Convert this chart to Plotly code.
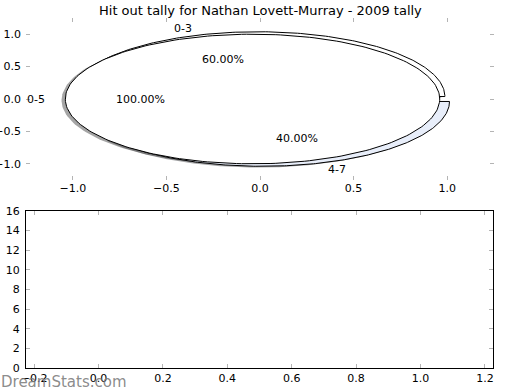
import numpy as np
import plotly.graph_objects as go

# ---- data ----
title_text = "Hit out tally for Nathan Lovett-Murray - 2009 tally"
pie1_labels = ["0-3", "4-7"]
pie1_values = [60, 40]
pie2_labels = ["0-5"]
pie2_values = [100]
top_x_ticks = [-1.0, -0.5, 0.0, 0.5, 1.0]
top_y_ticks = [-1.0, -0.5, 0.0, 0.5, 1.0]
bottom_x_ticks = [-0.2, 0.0, 0.2, 0.4, 0.6, 0.8, 1.0, 1.2]
bottom_y_ticks = [0, 2, 4, 6, 8, 10, 12, 14, 16]
watermark_text = "DreamStats.com"

# ---- style ----
pie1_colors = ["#ffffff", "#e8eefa"]
pie2_colors = ["#ffffff"]
EXPLODE = 0.04
SHADOW_OFF = (-0.02, -0.02)
LABEL_DIST = 1.1
PCT_DIST = 0.6
FONT = "DejaVu Sans"
TICK_GREY = "#b4b4b4"
W, H = 520, 390


def hexrgb(c):
    c = c.lstrip("#")
    return tuple(int(c[i:i + 2], 16) for i in (0, 2, 4))


def wedges(values, labels, colors, explode):
    total = float(sum(values))
    start = 0.0
    out = []
    for v, lab, col in zip(values, labels, colors):
        span = 360.0 * v / total
        t1, t2 = start, start + span
        mid = np.deg2rad((t1 + t2) / 2.0)
        cx, cy = explode * np.cos(mid), explode * np.sin(mid)
        th = np.deg2rad(np.linspace(t1, t2, 240))
        xs = cx + np.cos(th)
        ys = cy + np.sin(th)
        if span < 359.999:
            xs = np.concatenate([[cx], xs, [cx]])
            ys = np.concatenate([[cy], ys, [cy]])
        out.append(dict(x=xs, y=ys, cx=cx, cy=cy, mid=mid, color=col,
                        label=lab, pct=100.0 * v / total))
        start = t2
    return out


pies = [wedges(pie1_values, pie1_labels, pie1_colors, EXPLODE),
        wedges(pie2_values, pie2_labels, pie2_colors, EXPLODE)]

fig = go.Figure()

# shadows first (lower z-order)
for pie in pies:
    for w in pie:
        r, g, b = hexrgb(w["color"])
        sc = "rgba(%d,%d,%d,0.5)" % (int(r * 0.3), int(g * 0.3), int(b * 0.3))
        fig.add_trace(go.Scatter(x=w["x"] + SHADOW_OFF[0], y=w["y"] + SHADOW_OFF[1],
                                 mode="lines", fill="toself", fillcolor=sc,
                                 line=dict(width=0, color=sc), hoverinfo="skip",
                                 showlegend=False, xaxis="x", yaxis="y"))
# wedges
for pie in pies:
    for w in pie:
        fig.add_trace(go.Scatter(x=w["x"], y=w["y"], mode="lines", fill="toself",
                                 fillcolor=w["color"], line=dict(width=1, color="black"),
                                 hoverinfo="skip", showlegend=False,
                                 xaxis="x", yaxis="y"))

annotations = []
for pie in pies:
    for w in pie:
        lx = w["cx"] + LABEL_DIST * np.cos(w["mid"])
        ly = w["cy"] + LABEL_DIST * np.sin(w["mid"])
        annotations.append(dict(x=lx, y=ly, xref="x", yref="y", text=w["label"],
                                showarrow=False, xanchor="right" if lx < 0 else "left",
                                yanchor="middle", font=dict(family=FONT, size=11, color="black")))
        px = w["cx"] + PCT_DIST * np.cos(w["mid"])
        py = w["cy"] + PCT_DIST * np.sin(w["mid"])
        annotations.append(dict(x=px, y=py, xref="x", yref="y", text="%.2f%%" % w["pct"],
                                showarrow=False, xanchor="center", yanchor="middle",
                                font=dict(family=FONT, size=11, color="black")))

annotations.append(dict(x=0.5, y=1 - 10 / H, xref="paper", yref="paper", text=title_text,
                        showarrow=False, xanchor="center", yanchor="middle",
                        font=dict(family=FONT, size=13, color="black")))
annotations.append(dict(x=-1 / W, y=0 - 3 / H, xref="paper", yref="paper", text=watermark_text,
                        showarrow=False, xanchor="left", yanchor="bottom",
                        font=dict(family=FONT, size=15, color="rgba(125,125,125,0.9)")))

# empty bottom axes
fig.add_trace(go.Scatter(x=[], y=[], xaxis="x2", yaxis="y2", showlegend=False))

tickfont = dict(family=FONT, size=11, color="black")
common = dict(ticks="inside", ticklen=4, tickcolor=TICK_GREY, tickwidth=1,
              showgrid=False, zeroline=False, tickfont=tickfont, mirror="ticks",
              tickformat=".1f", automargin=False)

fig.update_layout(
    width=W, height=H,
    margin=dict(l=0, r=0, t=0, b=0, autoexpand=False),
    paper_bgcolor="white", plot_bgcolor="white",
    showlegend=False,
    annotations=annotations,
    xaxis=dict(domain=[26 / W, 494 / W], range=[-1.25, 1.25], tickvals=top_x_ticks,
               showline=False, anchor="y", **common),
    yaxis=dict(domain=[1 - 180 / H, 1 - 18 / H], range=[-1.25, 1.25], tickvals=top_y_ticks,
               showline=False, anchor="x", ticklabelstandoff=4, **common),
    xaxis2=dict(domain=[26 / W, 493 / W], range=[-0.225, 1.225], tickvals=bottom_x_ticks,
                showline=True, linecolor="black", linewidth=1, anchor="y2", **common),
    yaxis2=dict(domain=[1 - 368 / H, 1 - 211 / H], range=[0, 16], tickvals=bottom_y_ticks,
                showline=True, linecolor="black", linewidth=1, anchor="x2",
                ticklabelstandoff=3, **{**common, "tickformat": "d"}),
)

fig.write_html("out.html", config={"displayModeBar": False},
               post_script="document.body.style.margin='0';document.body.style.padding='0';")
